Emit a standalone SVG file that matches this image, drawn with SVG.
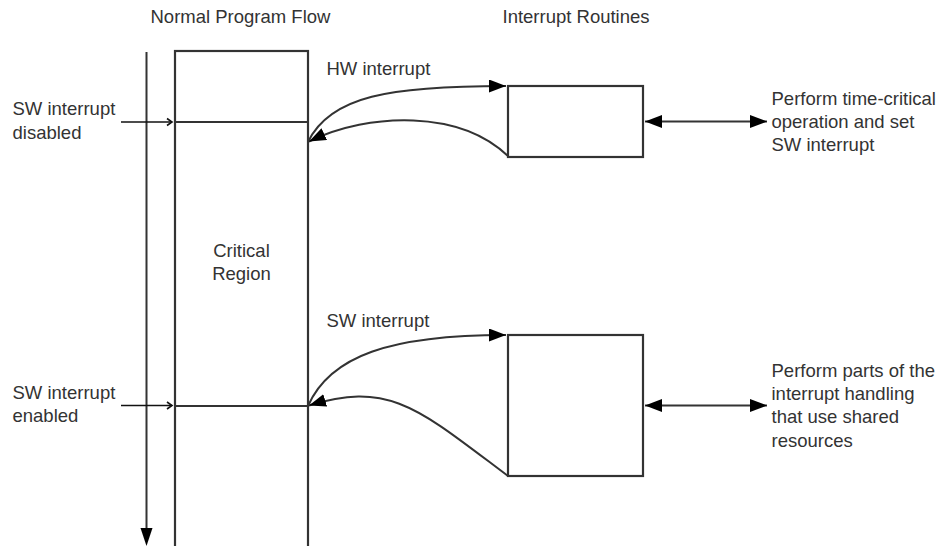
<svg xmlns="http://www.w3.org/2000/svg" width="945" height="546" viewBox="0 0 945 546">
<style>
text{font-family:"Liberation Sans",Arial,sans-serif;font-size:18.5px;fill:#333}
.ln{stroke:#333;stroke-width:2;fill:none}
.box{stroke:#333;stroke-width:2.2;fill:#fff}
.thin{stroke:#111;stroke-width:1.5;fill:none}
</style>
<defs>
<marker id="tri" markerUnits="userSpaceOnUse" markerWidth="20" markerHeight="14" refX="17" refY="6.5" orient="auto">
<path d="M0,0 L17,6.5 L0,13 Z" fill="#000"/>
</marker>
<marker id="tri2" markerUnits="userSpaceOnUse" markerWidth="20" markerHeight="14" refX="17" refY="6.5" orient="auto-start-reverse">
<path d="M0,0 L17,6.5 L0,13 Z" fill="#000"/>
</marker>
<marker id="chev" markerUnits="userSpaceOnUse" markerWidth="10" markerHeight="10" refX="6" refY="5" orient="auto">
<path d="M1,1.5 L6,5 L1,8.5" fill="none" stroke="#111" stroke-width="1.6"/>
</marker>
</defs>
<g id="titles">
<text x="150.5" y="23">Normal Program Flow</text>
<text x="502.5" y="23">Interrupt Routines</text>
</g>
<g id="timeline">
<line class="ln" x1="146.5" y1="52" x2="146.5" y2="530"/>
<path d="M140.5,528 L152.5,528 L146.5,546 Z" fill="#000"/>
</g>
<g id="program-flow">
<rect class="box" x="175" y="51" width="133" height="520"/>
<line class="ln" x1="175" y1="122" x2="308" y2="122"/>
<line class="ln" x1="175" y1="406" x2="308" y2="406"/>
<text x="241.5" y="256.5" text-anchor="middle">Critical</text>
<text x="241.5" y="280" text-anchor="middle">Region</text>
</g>
<g id="hw-routine">
<rect class="box" x="508" y="86" width="135" height="71"/>
</g>
<g id="sw-routine">
<rect class="box" x="508" y="335" width="135" height="141"/>
</g>
<g id="label-disabled">
<text x="12.5" y="115">SW interrupt</text>
<text x="12.5" y="138.5">disabled</text>
</g>
<g id="label-enabled">
<text x="12.5" y="398.5">SW interrupt</text>
<text x="12.5" y="421.5">enabled</text>
</g>
<g id="label-hw">
<text x="326.5" y="75">HW interrupt</text>
</g>
<g id="label-sw">
<text x="326.5" y="327">SW interrupt</text>
</g>
<g id="desc-hw">
<text x="771.5" y="104.5">Perform time-critical</text>
<text x="771.5" y="127.5">operation and set</text>
<text x="771.5" y="150.5">SW interrupt</text>
</g>
<g id="desc-sw">
<text x="771.5" y="377">Perform parts of the</text>
<text x="771.5" y="400">interrupt handling</text>
<text x="771.5" y="423">that use shared</text>
<text x="771.5" y="446.5">resources</text>
</g>
<g id="connectors">
<line class="thin" x1="121" y1="122" x2="172" y2="122" marker-end="url(#chev)"/>
<line class="thin" x1="121" y1="405.5" x2="172" y2="405.5" marker-end="url(#chev)"/>
<path class="ln" d="M308,142 C330,96 390,86 506,86" marker-end="url(#tri)"/>
<path class="ln" d="M508,156 C460,110 370,112 309,141.5" marker-end="url(#tri)"/>
<path class="ln" d="M308,406 C330,356 390,335 506,335" marker-end="url(#tri)"/>
<path class="ln" d="M508,476 C420,410 390,380 309,405.5" marker-end="url(#tri)"/>
<line class="ln" x1="645" y1="121.5" x2="767" y2="121.5" marker-start="url(#tri2)" marker-end="url(#tri2)"/>
<line class="ln" x1="645" y1="405.5" x2="767" y2="405.5" marker-start="url(#tri2)" marker-end="url(#tri2)"/>
</g>
</svg>
